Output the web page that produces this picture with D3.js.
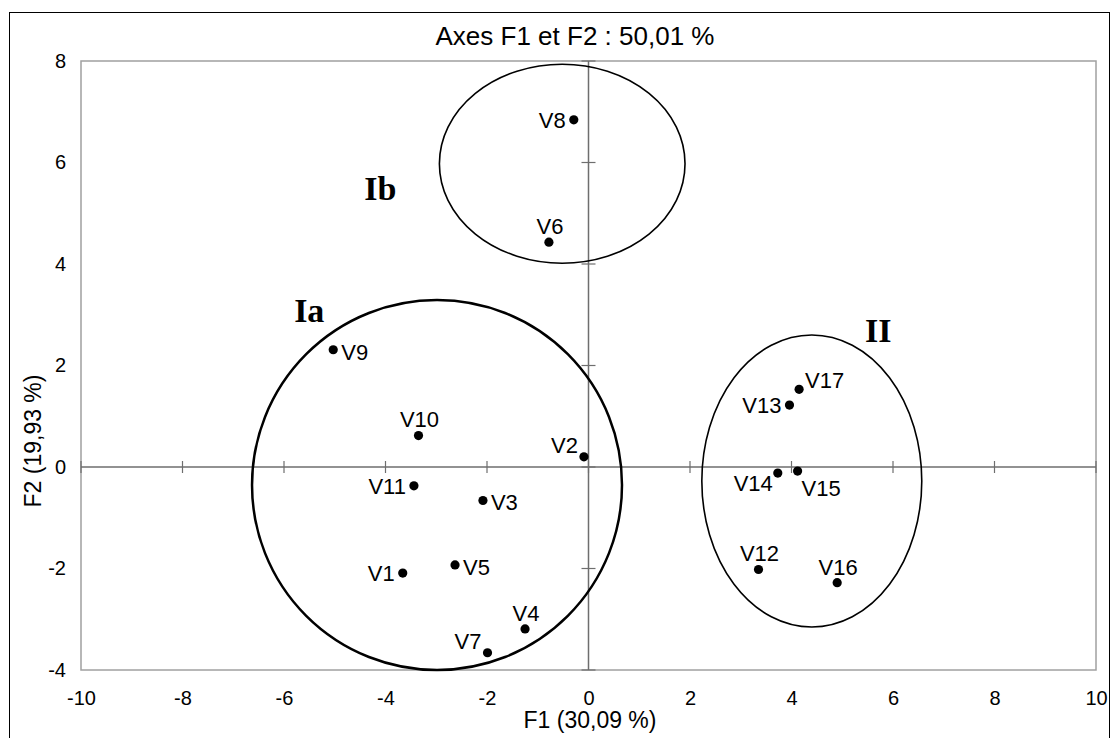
<!DOCTYPE html>
<meta charset="utf-8">
<script src="https://d3js.org/d3.v7.min.js"></script>
<style>
  body { margin: 0; background: #fff; }
  text { font-family: "Liberation Sans", Arial, sans-serif; }
</style>
<div id="chart"></div>
<script>

  // individuals (factor scores on F1 / F2)
  var names = ["V1","V2","V3","V4","V5","V6","V7","V8","V9","V10","V11","V12","V13","V14","V15","V16","V17"]
  var f1 = [-3.66,-0.09,-2.08,-1.25,-2.63,-0.78,-1.99,-0.29,-5.03,-3.35,-3.44,3.35,3.96,3.73,4.12,4.90,4.15]
  var f2 = [-2.09,0.20,-0.66,-3.19,-1.93,4.43,-3.66,6.84,2.31,0.62,-0.37,-2.02,1.22,-0.12,-0.08,-2.28,1.53]
  // where the label sits around its point
  var labelSide = ["left","leftup","right","up","right","up","leftup","left","right","up","left","up","left","leftdown","rightdown","up","rightup"]

  // groups drawn as ellipses (centre and radii in data units)
  var groups = ["Ia","Ib","II"]
  var groupCx = [-2.985,-0.518,4.40]
  var groupCy = [-0.355,5.976,-0.276]
  var groupRx = [3.645,2.42,2.167]
  var groupRy = [3.645,1.96,2.877]
  var groupLabelX = [-5.80,-4.42,5.45]
  var groupLabelY = [2.86,5.27,2.47]

  var xTicks = [-10,-8,-6,-4,-2,0,2,4,6,8,10]
  var yTicks = [-4,-2,0,2,4,6,8]

  var W = 1112, H = 738
  var margin = {top: 61, right: 16, bottom: 68, left: 81}
  var width = W - margin.left - margin.right,
      height = H - margin.top - margin.bottom

  var svg = d3.select("#chart").append("svg")
    .attr("width", W).attr("height", H)

  // outer chart frame
  svg.append("rect")
    .attr("x", 9.5).attr("y", 12.5)
    .attr("width", 1100).attr("height", 740)
    .attr("fill", "none").attr("stroke", "#000").attr("stroke-width", 1)

  var g = svg.append("g")
    .attr("transform", "translate(" + margin.left + "," + margin.top + ")")

  var x = d3.scaleLinear().domain([-10, 10]).range([0, width])
  var y = d3.scaleLinear().domain([-4, 8]).range([height, 0])

  // plot area border
  g.append("rect")
    .attr("width", width).attr("height", height)
    .attr("fill", "none").attr("stroke", "#a0a0a0").attr("stroke-width", 1.5)

  // tick labels on the plot edges (plain hyphen for negatives)
  var fmt = function(d) { return String(d) }
  var xa = g.append("g")
    .attr("transform", "translate(0," + height + ")")
    .call(d3.axisBottom(x).tickValues(xTicks).tickFormat(fmt).tickSize(0).tickPadding(21))
  var ya = g.append("g")
    .call(d3.axisLeft(y).tickValues(yTicks).tickFormat(fmt).tickSize(0).tickPadding(15))
  ;[xa, ya].forEach(function(a) {
    a.select(".domain").remove()
    a.selectAll("text").attr("fill", "#000").style("font-size", "20px")
      .style("font-family", "'Liberation Sans', Arial, sans-serif")
  })

  // axes through the origin with crossing ticks
  var axisColor = "#6e6e6e"
  g.append("line")
    .attr("x1", 0).attr("x2", width).attr("y1", y(0)).attr("y2", y(0))
    .attr("stroke", axisColor).attr("stroke-width", 1.5)
  g.append("line")
    .attr("x1", x(0)).attr("x2", x(0)).attr("y1", 0).attr("y2", height)
    .attr("stroke", axisColor).attr("stroke-width", 1.5)
  g.selectAll(".xt").data(xTicks).enter().append("line")
    .attr("x1", d => x(d)).attr("x2", d => x(d))
    .attr("y1", y(0) - 6).attr("y2", y(0) + 6)
    .attr("stroke", axisColor).attr("stroke-width", 1.2)
  g.selectAll(".yt").data(yTicks).enter().append("line")
    .attr("y1", d => y(d)).attr("y2", d => y(d))
    .attr("x1", x(0) - 7).attr("x2", x(0) + 7)
    .attr("stroke", axisColor).attr("stroke-width", 1.2)

  // group ellipses
  g.selectAll(".grp").data(groups).enter().append("ellipse")
    .attr("cx", (d, i) => x(groupCx[i]))
    .attr("cy", (d, i) => y(groupCy[i]))
    .attr("rx", (d, i) => x(groupRx[i]) - x(0))
    .attr("ry", (d, i) => y(0) - y(groupRy[i]))
    .attr("fill", "none").attr("stroke", "#000")
    .attr("stroke-width", (d, i) => i == 0 ? 2.5 : 1.6)

  g.selectAll(".glab").data(groups).enter().append("text")
    .attr("x", (d, i) => x(groupLabelX[i]))
    .attr("y", (d, i) => y(groupLabelY[i]))
    .style("font-family", "'Liberation Serif', 'Times New Roman', serif")
    .style("font-weight", "bold").style("font-size", "34px")
    .text(d => d)

  // points
  var pts = names.map(function(n, i) { return {name: n, x: f1[i], y: f2[i], side: labelSide[i]} })

  g.selectAll(".dot").data(pts).enter().append("circle")
    .attr("cx", d => x(d.x)).attr("cy", d => y(d.y))
    .attr("r", 4.6).attr("fill", "#000")

  var off = {
    left:      {dx: -8,  dy: 0,   a: "end"},
    right:     {dx: 8,   dy: 2,   a: "start"},
    up:        {dx: 1,   dy: -16, a: "middle"},
    leftup:    {dx: -6,  dy: -12, a: "end"},
    rightup:   {dx: 6,   dy: -9,  a: "start"},
    leftdown:  {dx: -5,  dy: 10,  a: "end"},
    rightdown: {dx: 4,   dy: 17,  a: "start"}
  }
  g.selectAll(".lab").data(pts).enter().append("text")
    .attr("x", d => x(d.x) + off[d.side].dx)
    .attr("y", d => y(d.y) + off[d.side].dy)
    .attr("dy", "0.36em")
    .attr("text-anchor", d => off[d.side].a)
    .style("font-size", "22px")
    .text(d => d.name)

  // titles
  svg.append("text")
    .attr("x", 575).attr("y", 45)
    .attr("text-anchor", "middle").style("font-size", "26px")
    .text("Axes F1 et F2 : 50,01 %")
  svg.append("text")
    .attr("x", 590).attr("y", 728)
    .attr("text-anchor", "middle").style("font-size", "23px")
    .text("F1 (30,09 %)")
  svg.append("text")
    .attr("transform", "translate(41,441) rotate(-90)")
    .attr("text-anchor", "middle").style("font-size", "23px")
    .text("F2 (19,93 %)")

</script>
